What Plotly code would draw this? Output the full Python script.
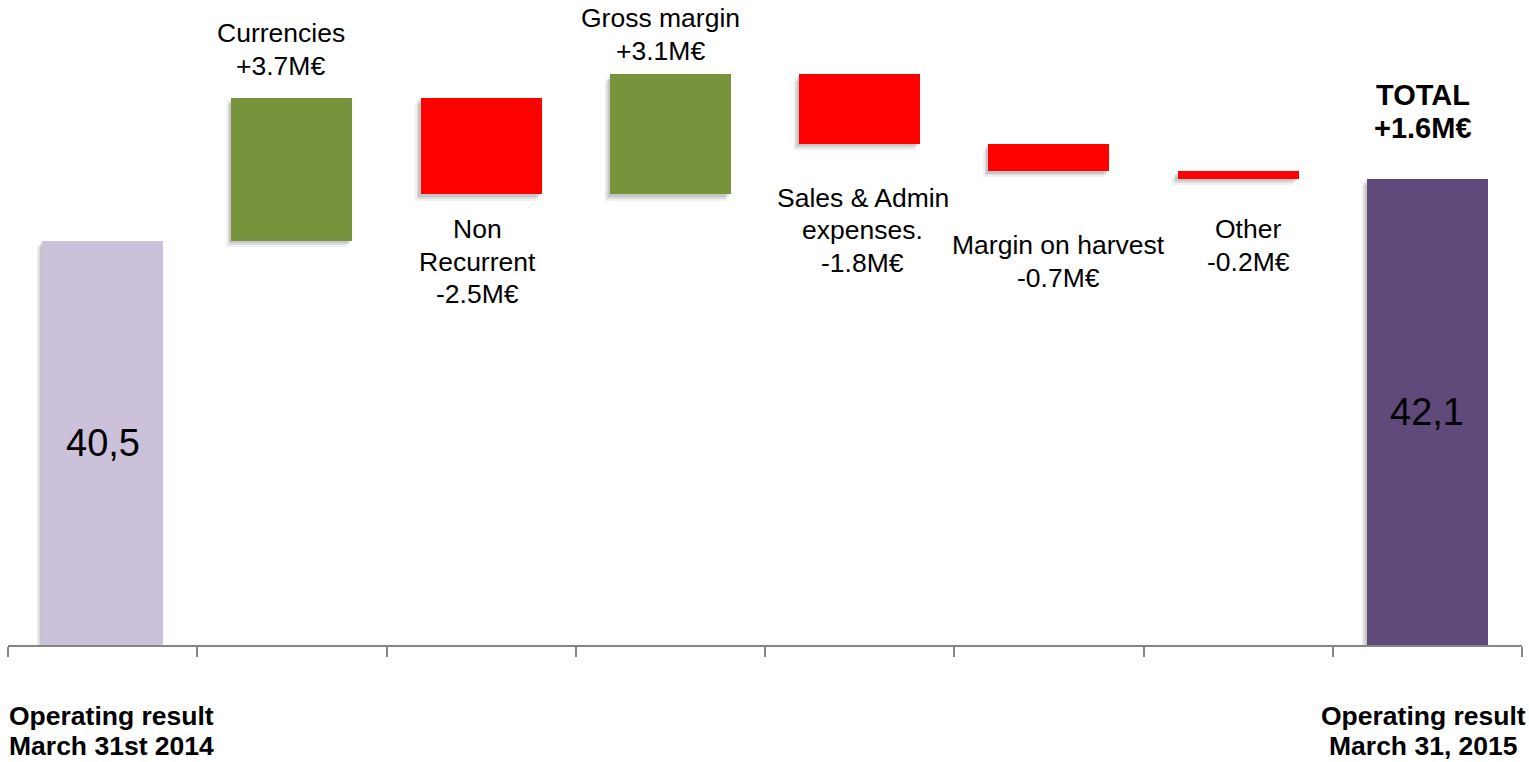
import plotly.graph_objects as go

# ---- data ----
categories = ["Operating result March 31st 2014", "Currencies", "Non Recurrent", "Gross margin",
              "Sales & Admin expenses.", "Margin on harvest", "Other", "Operating result March 31, 2015"]
start_value = 40.5
changes = [3.7, -2.5, 3.1, -1.8, -0.7, -0.2]
end_value = 42.1
change_labels = [["Currencies", "+3.7M€"], ["Non", "Recurrent", "-2.5M€"], ["Gross margin", "+3.1M€"],
                 ["Sales & Admin", "expenses.", "-1.8M€"], ["Margin on harvest", "-0.7M€"], ["Other", "-0.2M€"]]
total_label = ["TOTAL", "+1.6M€"]
start_text = "40,5"
end_text = "42,1"
start_cat_lines = ["Operating result", "March 31st 2014"]
end_cat_lines = ["Operating result", "March 31, 2015"]

# ---- layout helpers (pixel positions of label first lines) ----
PLOT_H = 645
label_first_px = [33, 229, 18, 198, 245, 229]
label_xshift = [-11, -4, -10, 3, 10, 10]
LINE_SP = 32.5

GREEN = "#77933C"
RED = "#FF0000"
LIGHT = "#CCC1DA"
DARK = "#604A7B"
AX = "#868686"
W = 0.64
YMIN, YMAX = 30.07, 46.72

# compute bases/heights from data
x_idx = list(range(len(categories)))
bases, heights, colors = [0], [start_value], [LIGHT]
level = start_value
for c in changes:
    if c >= 0:
        bases.append(level); heights.append(c); colors.append(GREEN)
    else:
        bases.append(level + c); heights.append(-c); colors.append(RED)
    level += c
bases.append(0); heights.append(end_value); colors.append(DARK)

fig = go.Figure()
# soft shadows
for dx, dy, a in [(-0.028, -0.16, 0.06), (-0.02, -0.11, 0.08), (-0.012, -0.06, 0.10)]:
    fig.add_trace(go.Bar(x=x_idx, y=heights, base=[b + dy for b in bases], width=W, offset=-W / 2 + dx,
                         marker=dict(color=f"rgba(0,0,0,{a})", line=dict(width=0)),
                         hoverinfo="skip", showlegend=False))
fig.add_trace(go.Bar(x=x_idx, y=heights, base=bases, width=W, offset=-W / 2,
                     marker=dict(color=colors, line=dict(width=0)), showlegend=False))

FAM = "Liberation Sans, Arial, sans-serif"
font_main = dict(family=FAM, size=26.5, color="black")
annotations = []


def add_lines(lines, x, xref, first_px, spacing, font, xanchor="center", xshift=0, bold=False):
    for k, line in enumerate(lines):
        py = first_px + k * spacing
        annotations.append(dict(x=x, xref=xref, y=(PLOT_H - py) / PLOT_H, yref="paper",
                                text=f"<b>{line}</b>" if bold else line, showarrow=False,
                                xanchor=xanchor, yanchor="middle", xshift=xshift, font=font))


for i, lines in enumerate(change_labels):
    add_lines(lines, i + 1, "x", label_first_px[i], LINE_SP, font_main, xshift=label_xshift[i])
add_lines(total_label, 7, "x", 95, 33, dict(family=FAM, size=29, color="black"), xshift=-4, bold=True)

big = dict(family=FAM, size=38, color="black")
annotations.append(dict(x=0, xref="x", y=(YMIN + start_value) / 2, yref="y", text=start_text,
                        showarrow=False, font=big))
annotations.append(dict(x=7, xref="x", y=(YMIN + end_value) / 2, yref="y", text=end_text,
                        showarrow=False, font=big))

bold_font = dict(family=FAM, size=26.5, color="black")
add_lines(start_cat_lines, 0, "paper", 716, 30, bold_font, xanchor="left", xshift=-1, bold=True)
add_lines(end_cat_lines, 7, "x", 716, 30, bold_font, xshift=-4, bold=True)

fig.update_layout(
    width=1529, height=762,
    margin=dict(l=8, r=7, t=0, b=117),
    plot_bgcolor="white", paper_bgcolor="white",
    barmode="overlay", bargap=0,
    annotations=annotations,
    xaxis=dict(range=[-0.5, 7.5], tickvals=[i - 0.5 for i in range(9)], showticklabels=False,
               ticks="outside", ticklen=10, tickwidth=2, tickcolor=AX,
               showline=True, linecolor=AX, linewidth=2, showgrid=False, zeroline=False, fixedrange=True),
    yaxis=dict(range=[YMIN, YMAX], visible=False, showgrid=False, zeroline=False, fixedrange=True),
)

fig.write_html("out.html")
